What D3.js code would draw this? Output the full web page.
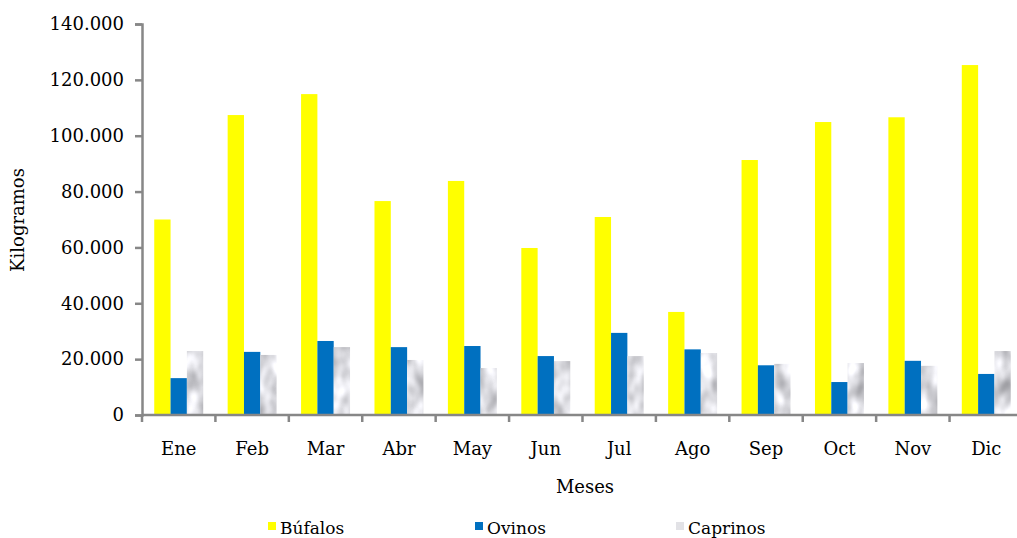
<!DOCTYPE html>
<html>
<head>
<meta charset="utf-8">
<script src="https://cdn.jsdelivr.net/npm/d3@7"></script>
<style>
  html, body { margin: 0; padding: 0; background: #fff; }
  svg { display: block; }
  text { font-family: "DejaVu Serif", "Liberation Serif", serif; fill: #000; }
</style>
</head>
<body>
<svg id="chart" width="1017" height="538"></svg>
<script>
const months = ["Ene","Feb","Mar","Abr","May","Jun","Jul","Ago","Sep","Oct","Nov","Dic"];
const seriesNames = ["Búfalos","Ovinos","Caprinos"];
const bufalos  = [70000,107400,114900,76600,83800,59800,70900,36900,91300,104900,106600,125300];
const ovinos   = [13200,22600,26500,24300,24700,21100,29400,23500,17800,11800,19400,14700];
const caprinos = [22900,21500,24300,19700,16800,19300,21100,22200,18300,18600,17600,22900];
const yTicks = [0,20000,40000,60000,80000,100000,120000,140000];
const yTickLabels = ["0","20.000","40.000","60.000","80.000","100.000","120.000","140.000"];

const colors = ["#ffff00", "#0070c0", "#dcdce2"];
const values = [bufalos, ovinos, caprinos];

const svg = d3.select("#chart");
const defs = svg.append("defs");
const f = defs.append("filter").attr("id","marbleF").attr("x",0).attr("y",0).attr("width",1).attr("height",1)
  .attr("color-interpolation-filters","sRGB");
f.append("feTurbulence").attr("type","fractalNoise").attr("baseFrequency","0.07 0.045").attr("numOctaves",2).attr("seed",7).attr("result","n");
f.append("feColorMatrix").attr("in","n").attr("type","matrix")
  .attr("values","0.6 0 0 0 0.56  0.6 0 0 0 0.56  0.6 0 0 0 0.58  0 0 0 0 1").attr("result","g");
f.append("feComposite").attr("in","g").attr("in2","SourceGraphic").attr("operator","in");

const x0 = d3.scaleBand().domain(months).range([142, 1023]).paddingInner(0.333).paddingOuter(0.1667);
const x1 = d3.scaleBand().domain(seriesNames).range([0, x0.bandwidth()]);
const y = d3.scaleLinear().domain([0,140000]).range([415, 24]);

// bars
seriesNames.forEach((s, si) => {
  const g = svg.append("g");
  g.selectAll("rect").data(months).enter().append("rect")
    .attr("x", d => x0(d) + x1(s))
    .attr("y", (d,i) => y(values[si][i]))
    .attr("width", x1.bandwidth())
    .attr("height", (d,i) => y(0) - y(values[si][i]))
    .attr("fill", colors[si])
    .attr("filter", si === 2 ? "url(#marbleF)" : null);
});

// y axis
const yAxis = d3.axisLeft(y).tickValues(yTicks).tickFormat((d,i) => yTickLabels[i]).tickSize(7).tickPadding(11);
const gy = svg.append("g").attr("transform","translate(142,0)").call(yAxis);
gy.selectAll("line,path").attr("stroke","#878787").attr("stroke-width",2.5);
gy.selectAll("text").style("font-size","18px").attr("fill","#000");

// x axis
const gx = svg.append("g").attr("transform","translate(0,415)");
gx.append("line").attr("x1",142).attr("x2",1023).attr("y1",0).attr("y2",0).attr("stroke","#878787").attr("stroke-width",2.5);
const step = x0.step();
const boundaries = d3.range(months.length + 1).map(i => 142 + i*step);
gx.selectAll("line.tick").data(boundaries).enter().append("line").attr("class","tick")
  .attr("x1", d => d).attr("x2", d => d).attr("y1",0).attr("y2",7)
  .attr("stroke","#878787").attr("stroke-width",2.5);
gx.selectAll("text").data(months).enter().append("text")
  .attr("x", d => x0(d) + x0.bandwidth()/2)
  .attr("y", 40)
  .attr("text-anchor","middle")
  .style("font-size","18px")
  .text(d => d);

// axis titles
svg.append("text").attr("x",585).attr("y",493).attr("text-anchor","middle").style("font-size","18px").text("Meses");
svg.append("text").attr("transform","translate(24,220) rotate(-90)").attr("text-anchor","middle").style("font-size","18px").text("Kilogramos");

// legend
const legendX = [268, 475, 676];
const legendFill = ["#ffff00","#0070c0","#e2e2e6"];
seriesNames.forEach((s, i) => {
  svg.append("rect").attr("x", legendX[i]).attr("y", 522).attr("width", 8).attr("height", 8).attr("fill", legendFill[i]);
  svg.append("text").attr("x", legendX[i] + 12).attr("y", 534).style("font-size","17px").text(s);
});
</script>
</body>
</html>
